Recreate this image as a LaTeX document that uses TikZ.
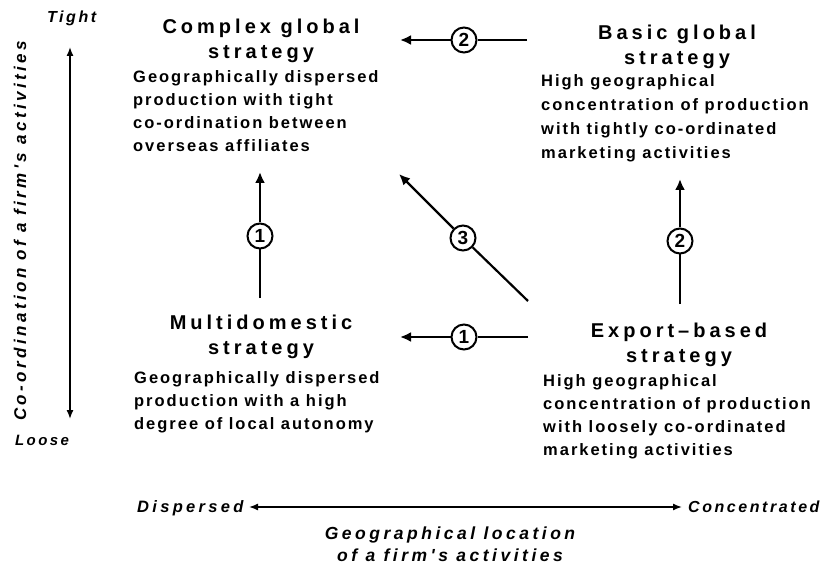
\documentclass[tikz,border=0pt]{standalone}
\usepackage{fontspec}
\setmainfont{Liberation Sans}
\newfontfamily\hdfont{Liberation Sans Bold}[LetterSpace=20]
\newfontfamily\bdfont{Liberation Sans Bold}[LetterSpace=12]
\newfontfamily\itfont{Liberation Sans Bold Italic}[LetterSpace=16]
\newfontfamily\itwfont{Liberation Sans Bold Italic}[LetterSpace=20]
\usetikzlibrary{arrows.meta}
\tikzset{
  title/.style={font=\hdfont\fontsize{20}{25}\selectfont, align=center, anchor=base, inner sep=0pt},
  body/.style={font=\bdfont\fontsize{16.5}{23}\selectfont, align=left, anchor=base west, inner sep=0pt},
  axlab/.style={font=\itfont\fontsize{16}{22}\selectfont, inner sep=0pt},
  num/.style={circle, draw, line width=2pt, fill=white, inner sep=0pt, minimum size=25pt, font=\bfseries\fontsize{19}{19}\selectfont},
  seg/.style={line width=2.2pt},
  arr/.style={line width=2.2pt, -{Latex[length=11pt,width=10pt]}},
  axis/.style={line width=1.4pt, {Latex[length=9pt,width=7pt]}-{Latex[length=9pt,width=7pt]}}
}
\begin{document}
\begin{tikzpicture}[x=1pt,y=-1pt]
\useasboundingbox (0,0) rectangle (823,567);
% titles (anchor = baseline of the last line)
\node[title] (tcg) at (261,59) {Complex global\\strategy};
\node[title] (tbg) at (677,65) {Basic global\\strategy};
\node[title] (tmd) at (261,354) {Multidomestic\\strategy};
\node[title] (teb) at (679,362) {Export\textendash based\\strategy};
% bodies (anchor = baseline of the last line)
\node[body] (bcg) at (133,152) {Geographically dispersed\\production with tight\\co-ordination between\\overseas affiliates};
\node[body, font=\bdfont\fontsize{16.5}{24}\selectfont] (bbg) at (541,159) {High geographical\\concentration of production\\with tightly co-ordinated\\marketing activities};
\node[body] (bmd) at (134,429) {Geographically dispersed\\production with a high\\degree of local autonomy};
\node[body] (beb) at (543,455) {High geographical\\concentration of production\\with loosely co-ordinated\\marketing activities};
% connectors
\coordinate (h2s) at (527,40);
\coordinate (h2e) at (400,40);
\node[num] (n2h) at (464,40) {2};
\draw[seg] (h2s) -- (n2h);
\draw[arr] (n2h) -- (h2e);

\coordinate (h1s) at (528,337);
\coordinate (h1e) at (400,337);
\node[num] (n1h) at (464,337) {1};
\draw[seg] (h1s) -- (n1h);
\draw[arr] (n1h) -- (h1e);

\coordinate (v1s) at (260,298);
\coordinate (v1e) at (260,172);
\node[num] (n1v) at (260,236) {1};
\draw[seg] (v1s) -- (n1v);
\draw[arr] (n1v) -- (v1e);

\coordinate (v2s) at (680,304);
\coordinate (v2e) at (680,179);
\node[num] (n2v) at (680,241) {2};
\draw[seg] (v2s) -- (n2v);
\draw[arr] (n2v) -- (v2e);

\coordinate (d3s) at (528,301);
\coordinate (d3e) at (399,174);
\node[num] (n3d) at (463,238) {3};
\draw[seg] (d3s) -- (n3d);
\draw[arr] (n3d) -- (d3e);
% axes
\coordinate (vat) at (70,47);
\coordinate (vab) at (70,419);
\draw[axis] (vat) -- (vab);
\coordinate (hal) at (249,507);
\coordinate (har) at (682,507);
\draw[axis] (hal) -- (har);
\node[axlab, anchor=base west, font=\itfont\fontsize{16}{22}\selectfont] (ltight) at (47,23) {Tight};
\node[axlab, anchor=base west, font=\itfont\fontsize{15}{22}\selectfont] (lloose) at (15,445) {Loose};
\node[axlab, rotate=90, font=\itwfont\fontsize{17}{22}\selectfont] (lcoord) at (20,231) {Co-ordination of a firm's activities};
\node[axlab, anchor=base west, font=\itwfont\fontsize{16.5}{22}\selectfont] (ldisp) at (137,512) {Dispersed};
\node[axlab, anchor=base west] (lconc) at (688,512) {Concentrated};
\node[axlab, align=center, anchor=base, font=\itwfont\fontsize{17.5}{22}\selectfont] (lgeo) at (450,561) {Geographical location\\of a firm's activities};
\end{tikzpicture}
\end{document}
